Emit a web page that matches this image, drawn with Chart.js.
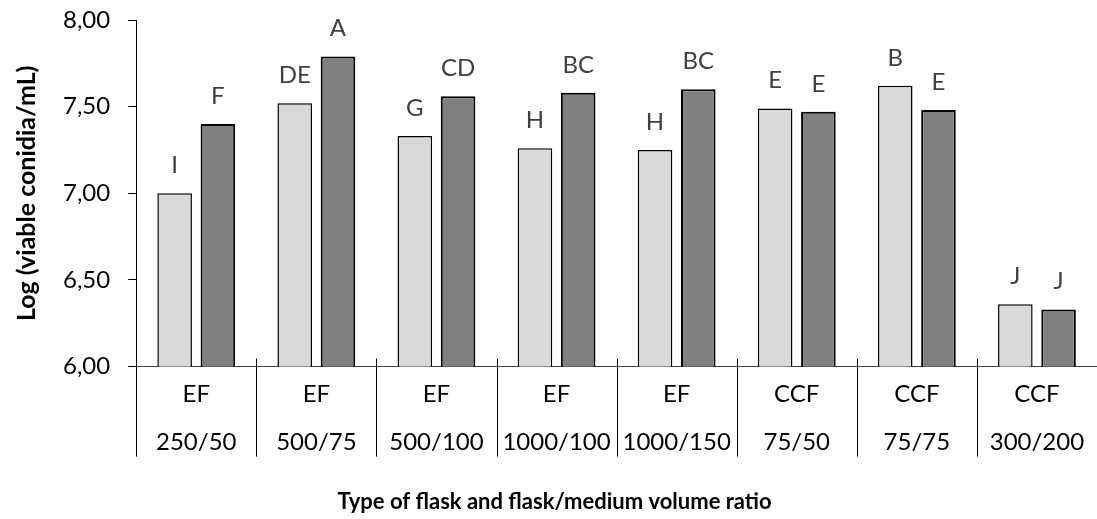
<!DOCTYPE html>
<html>
<head>
<meta charset="utf-8">
<script src="https://cdn.jsdelivr.net/npm/chart.js@4/dist/chart.umd.min.js"></script>
<style>
html,body{margin:0;padding:0;background:#fff;}
#wrap{width:1097px;height:519px;position:relative;}
</style>
</head>
<body>
<div id="wrap"><canvas id="c"></canvas></div>
<script>
const flaskTypes = ['EF','EF','EF','EF','EF','CCF','CCF','CCF'];
const volumeRatios = ['250/50','500/75','500/100','1000/100','1000/150','75/50','75/75','300/200'];
const seriesLight = [7.00, 7.52, 7.33, 7.26, 7.25, 7.49, 7.62, 6.36];
const seriesDark  = [7.40, 7.79, 7.56, 7.58, 7.60, 7.47, 7.48, 6.33];
const lettersLight = ['I','DE','G','H','H','E','B','J'];
const lettersDark  = ['F','A','CD','BC','BC','E','E','J'];
const yTickLabels = ['6,00','6,50','7,00','7,50','8,00'];
const yTitle = 'Log (viable conidia/mL)';
const xTitle = 'Type of flask and flask/medium volume ratio';

const FONT = 'Lato';
const categories = flaskTypes.map((t, i) => [t, volumeRatios[i]]);

const separators = {
  id: 'separators',
  afterDraw(chart) {
    const xs = chart.scales.x;
    const n = categories.length;
    const w = (xs.right - xs.left) / n;
    const ctx = chart.ctx;
    ctx.save();
    ctx.strokeStyle = '#000';
    ctx.lineWidth = 1;
    for (let i = 0; i <= n; i++) {
      const x = Math.round(xs.left + i * w) + 0.5;
      ctx.beginPath();
      ctx.moveTo(x, xs.top - 8);
      ctx.lineTo(x, xs.top + 90);
      ctx.stroke();
    }
    ctx.restore();
  }
};

const letterLabels = {
  id: 'letterLabels',
  afterDatasetsDraw(chart) {
    const ctx = chart.ctx;
    const sets = [lettersLight, lettersDark];
    ctx.save();
    ctx.font = '24px ' + FONT;
    ctx.fillStyle = '#404040';
    ctx.textAlign = 'center';
    ctx.textBaseline = 'middle';
    chart.data.datasets.forEach((ds, d) => {
      chart.getDatasetMeta(d).data.forEach((el, i) => {
        ctx.fillText(sets[d][i], el.x, el.y - 28);
      });
    });
    ctx.restore();
  }
};

new Chart(document.getElementById('c'), {
  type: 'bar',
  data: {
    labels: categories,
    datasets: [
      { data: seriesLight, backgroundColor: '#d9d9d9', borderColor: '#000', borderWidth: 1.5,
        categoryPercentage: 0.72, barPercentage: 0.8 },
      { data: seriesDark, backgroundColor: '#808080', borderColor: '#000', borderWidth: 2,
        categoryPercentage: 0.72, barPercentage: 0.8 }
    ]
  },
  options: {
    responsive: true,
    maintainAspectRatio: false,
    animation: false,
    layout: { padding: { top: 20, left: 12, right: 0, bottom: 0 } },
    plugins: {
      legend: { display: false },
      tooltip: { enabled: false },
      title: { display: true, position: 'bottom', text: xTitle, color: '#000',
        font: { family: FONT, size: 22, weight: 'bold' }, padding: { top: 18, bottom: 4 } }
    },
    scales: {
      x: {
        grid: { display: false, drawTicks: false },
        border: { display: true, color: '#404040', width: 1 },
        ticks: { color: '#000', font: { family: FONT, size: 24, lineHeight: 2.0 }, padding: 4, maxRotation: 0, autoSkip: false }
      },
      y: {
        min: 6, max: 8,
        afterFit(scale) { scale.paddingTop = 14; scale.paddingBottom = 14; },
        grid: { drawOnChartArea: false, drawTicks: true, tickLength: 8, color: '#000' },
        border: { display: true, color: '#000', width: 1 },
        ticks: { stepSize: 0.5, color: '#000', padding: 18, font: { family: FONT, size: 24 },
          callback: (v) => yTickLabels[Math.round((v - 6) / 0.5)] },
        title: { display: true, text: yTitle, color: '#000', font: { family: FONT, size: 25, weight: 'bold' }, padding: { top: 0, bottom: 3 } }
      }
    }
  },
  plugins: [separators, letterLabels]
});
</script>
</body>
</html>
